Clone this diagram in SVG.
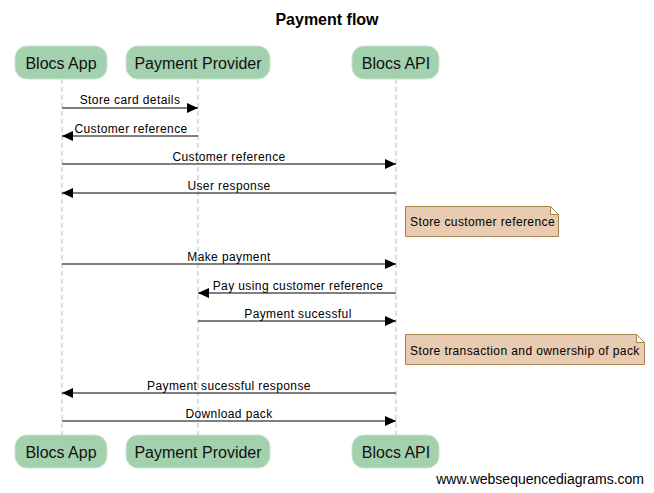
<svg xmlns="http://www.w3.org/2000/svg" width="654" height="493" viewBox="0 0 654 493">
<style>
.part rect{fill:#a3d0ad;stroke:#c8e4cf;stroke-width:1}
.part text{font-family:"Liberation Sans",Arial,sans-serif;font-size:16px;fill:#111;text-anchor:middle}
.life{stroke:#bbb;stroke-width:1;stroke-dasharray:5,3}
.msg line{stroke:#000;stroke-width:1}
.msg text{font-family:"Liberation Sans",Arial,sans-serif;font-size:12px;fill:#000;text-anchor:middle;letter-spacing:0.4px}
.note path{fill:#e8cbb1;stroke:#a6834f;stroke-width:1}
.note text{font-family:"Liberation Sans",Arial,sans-serif;font-size:12px;fill:#000;letter-spacing:0.4px}
</style>
<defs>
<marker id="ah" viewBox="0 0 11 10" refX="11" refY="5" markerWidth="11" markerHeight="10" markerUnits="userSpaceOnUse" orient="auto">
<path d="M0,0 L11,5 L0,10 Z" fill="#000"/>
</marker>
</defs>
<rect width="654" height="493" fill="#fff"/>
<text x="327" y="25" font-family="Liberation Sans,Arial,sans-serif" font-size="16" font-weight="bold" text-anchor="middle" fill="#000">Payment flow</text>
<g id="lifelines">
<line class="life" x1="62" y1="79" x2="62" y2="435"/>
<line class="life" x1="198" y1="79" x2="198" y2="435"/>
<line class="life" x1="396" y1="79" x2="396" y2="435"/>
</g>
<g id="p-app-top" class="part"><rect x="15" y="46" width="92" height="33" rx="12"/><text x="61" y="69">Blocs App</text></g>
<g id="p-prov-top" class="part"><rect x="126" y="46" width="144" height="33" rx="12"/><text x="198" y="69">Payment Provider</text></g>
<g id="p-api-top" class="part"><rect x="352" y="46" width="87" height="33" rx="12"/><text x="396" y="69">Blocs API</text></g>
<g id="p-app-bot" class="part"><rect x="15" y="435" width="92" height="33" rx="12"/><text x="61" y="458">Blocs App</text></g>
<g id="p-prov-bot" class="part"><rect x="126" y="435" width="144" height="33" rx="12"/><text x="198" y="458">Payment Provider</text></g>
<g id="p-api-bot" class="part"><rect x="352" y="435" width="87" height="33" rx="12"/><text x="396" y="458">Blocs API</text></g>
<g id="connectors" class="msg">
<line x1="62" y1="108" x2="198" y2="108" marker-end="url(#ah)"/><text x="130" y="104">Store card details</text>
<line x1="198" y1="136" x2="62" y2="136" marker-end="url(#ah)"/><text x="131" y="133">Customer reference</text>
<line x1="62" y1="164" x2="396" y2="164" marker-end="url(#ah)"/><text x="229" y="161">Customer reference</text>
<line x1="396" y1="193" x2="62" y2="193" marker-end="url(#ah)"/><text x="229" y="190">User response</text>
<line x1="62" y1="264" x2="396" y2="264" marker-end="url(#ah)"/><text x="229" y="261">Make payment</text>
<line x1="396" y1="293" x2="198" y2="293" marker-end="url(#ah)"/><text x="298" y="290">Pay using customer reference</text>
<line x1="198" y1="321" x2="396" y2="321" marker-end="url(#ah)"/><text x="298" y="318">Payment sucessful</text>
<line x1="396" y1="393" x2="62" y2="393" marker-end="url(#ah)"/><text x="229" y="390">Payment sucessful response</text>
<line x1="62" y1="421" x2="396" y2="421" marker-end="url(#ah)"/><text x="229" y="418">Download pack</text>
</g>
<g id="note1" class="note"><path d="M405.5,206.5 H550.5 L558.5,214.5 V236.5 H405.5 Z M550.5,206.5 V214.5 H558.5"/><text x="410" y="226">Store customer reference</text></g>
<g id="note2" class="note"><path d="M405.5,334.5 H636.5 L644.5,342.5 V364.5 H405.5 Z M636.5,334.5 V342.5 H644.5"/><text x="410" y="355">Store transaction and ownership of pack</text></g>
<text x="644" y="484" font-family="Liberation Sans,Arial,sans-serif" font-size="14" text-anchor="end" fill="#000">www.websequencediagrams.com</text>
</svg>
